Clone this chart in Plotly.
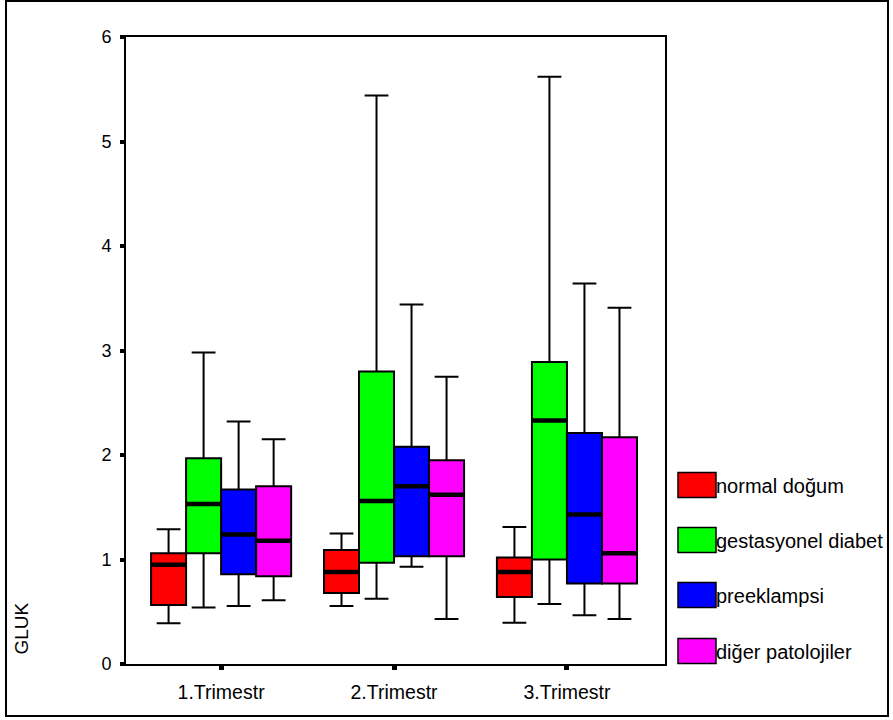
import plotly.graph_objects as go

categories = ["1.Trimestr", "2.Trimestr", "3.Trimestr"]
series_names = ["normal doğum", "gestasyonel diabet", "preeklampsi", "diğer patolojiler"]
colors = ["#FF0000", "#00FF00", "#0000FF", "#FF00FF"]

# per series: values for [1.Trimestr, 2.Trimestr, 3.Trimestr]
lower = {
    "normal doğum": [0.39, 0.555, 0.395],
    "gestasyonel diabet": [0.54, 0.625, 0.574],
    "preeklampsi": [0.555, 0.93, 0.466],
    "diğer patolojiler": [0.61, 0.43, 0.43],
}
q1 = {
    "normal doğum": [0.565, 0.68, 0.64],
    "gestasyonel diabet": [1.06, 0.97, 1.00],
    "preeklampsi": [0.86, 1.03, 0.77],
    "diğer patolojiler": [0.84, 1.03, 0.77],
}
median = {
    "normal doğum": [0.95, 0.88, 0.88],
    "gestasyonel diabet": [1.53, 1.56, 2.33],
    "preeklampsi": [1.24, 1.70, 1.43],
    "diğer patolojiler": [1.18, 1.62, 1.06],
}
q3 = {
    "normal doğum": [1.06, 1.09, 1.02],
    "gestasyonel diabet": [1.97, 2.80, 2.89],
    "preeklampsi": [1.67, 2.08, 2.21],
    "diğer patolojiler": [1.70, 1.95, 2.17],
}
upper = {
    "normal doğum": [1.29, 1.25, 1.31],
    "gestasyonel diabet": [2.98, 5.44, 5.62],
    "preeklampsi": [2.32, 3.44, 3.64],
    "diğer patolojiler": [2.15, 2.75, 3.41],
}
y_ticks = [0, 1, 2, 3, 4, 5, 6]
y_title = "GLUK"

W, H = 893, 720
ML, MR, MT, MB = 126, 228, 37, 56
PW, PH = W - ML - MR, H - MT - MB


def px_x(px):
    return (px - ML) / PW


def px_y(py):
    return (H - MB - py) / PH


fig = go.Figure()
for i, name in enumerate(series_names):
    fig.add_trace(go.Box(
        x=categories, q1=q1[name], median=median[name], q3=q3[name],
        lowerfence=lower[name], upperfence=upper[name],
        name=name, offsetgroup=str(i), fillcolor=colors[i],
        line=dict(color="black", width=2), whiskerwidth=0.68,
        boxpoints=False, showlegend=False, hoverinfo="skip",
    ))
for i, name in enumerate(series_names):
    fig.add_trace(go.Box(
        x=categories, q1=median[name], median=median[name], q3=median[name],
        lowerfence=median[name], upperfence=median[name],
        name=name + " median", offsetgroup=str(i), fillcolor="black",
        line=dict(color="black", width=4.5), whiskerwidth=0,
        boxpoints=False, showlegend=False, hoverinfo="skip",
    ))

shapes = []
annotations = []
# outer border
shapes.append(dict(type="rect", xref="paper", yref="paper",
                   x0=px_x(6), x1=px_x(888), y0=px_y(716), y1=px_y(1),
                   line=dict(color="black", width=2), fillcolor="rgba(0,0,0,0)",
                   layer="below"))
# legend
legend_centers = [485, 540, 595, 651]
for i, name in enumerate(series_names):
    cy = legend_centers[i]
    shapes.append(dict(type="rect", xref="paper", yref="paper",
                       x0=px_x(678), x1=px_x(716), y0=px_y(cy + 12.5), y1=px_y(cy - 12.5),
                       line=dict(color="black", width=1.5), fillcolor=colors[i]))
    annotations.append(dict(xref="paper", yref="paper", x=px_x(714), y=px_y(cy + 1),
                            text=name, showarrow=False, xanchor="left", yanchor="middle",
                            font=dict(size=20, color="black", family="Liberation Sans, Arial")))
# y-axis title, just inside the outer border
annotations.append(dict(xref="paper", yref="paper", x=px_x(8), y=px_y(628),
                        text=y_title, showarrow=False, textangle=-90,
                        xanchor="left", yanchor="middle",
                        font=dict(size=19, color="black", family="Liberation Sans, Arial")))

fig.update_layout(
    width=W, height=H,
    margin=dict(l=ML, r=MR, t=MT, b=MB, pad=0),
    paper_bgcolor="white", plot_bgcolor="white",
    boxmode="group", boxgap=0.19, boxgroupgap=0,
    shapes=shapes, annotations=annotations,
    font=dict(family="Liberation Sans, Arial", color="black"),
    showlegend=False,
)
fig.update_xaxes(
    type="category", range=[-0.55, 2.567],
    showline=True, linecolor="black", linewidth=2, mirror=True,
    ticks="outside", ticklen=4, tickwidth=5, tickcolor="black",
    showgrid=False, zeroline=False,
    tickfont=dict(size=19.5, color="black"), ticklabelstandoff=6,
)
fig.update_yaxes(
    range=[0, 6], tickvals=y_ticks, ticktext=[str(v) for v in y_ticks],
    showline=True, linecolor="black", linewidth=2, mirror=True,
    ticks="outside", ticklen=4, tickwidth=4, tickcolor="black",
    showgrid=False, zeroline=False,
    tickfont=dict(size=18, color="black"), ticklabelstandoff=5,
)

fig.write_html("out.html", config={"displayModeBar": False},
               post_script="document.body.style.margin='0';")
